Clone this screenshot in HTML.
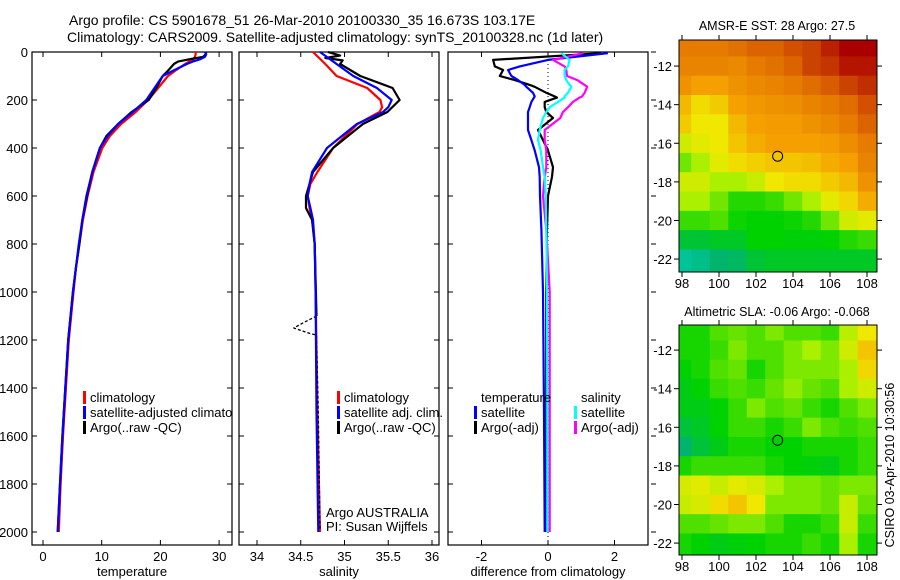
<!DOCTYPE html>
<html><head><meta charset="utf-8"><style>
html,body{margin:0;padding:0;background:#fff;}
svg{display:block;font-family:"Liberation Sans",sans-serif;}
</style></head><body>
<svg id="fig" width="900" height="580" viewBox="0 0 900 580" xmlns="http://www.w3.org/2000/svg">
<defs><clipPath id="clip1"><rect x="32" y="52" width="200" height="493"/></clipPath></defs>
<text x="69" y="25" font-size="14">Argo profile: CS 5901678_51 26-Mar-2010 20100330_35 16.673S 103.17E</text>
<text x="67" y="42" font-size="14">Climatology: CARS2009. Satellite-adjusted climatology: synTS_20100328.nc (1d later)</text>
<text x="777" y="30" font-size="12.5" text-anchor="middle">AMSR-E SST: 28 Argo: 27.5</text>
<text x="777" y="316" font-size="12.5" text-anchor="middle">Altimetric SLA: -0.06 Argo: -0.068</text>
<text x="0" y="0" font-size="12.5" text-anchor="middle" transform="translate(894,465) rotate(-90)">CSIRO 03-Apr-2010 10:30:56</text>
<g id="layer"></g>
</svg>
<script>
// ---- profile data (depth in m) ----
const tDepth=[0,10,20,30,40,50,75,100,150,200,250,300,350,400,500,600,700,800,900,1000,1200,1400,1600,1800,2000];
const tClim=[26.0,26.0,25.9,25.6,24.9,24.2,22.7,21.3,19.6,17.9,15.8,13.3,11.4,10.1,8.6,7.6,6.8,6.2,5.6,5.2,4.4,3.9,3.4,3.0,2.7];
const tSat=[27.6,27.8,27.6,26.8,25.5,24.5,22.4,20.4,19.0,17.6,15.3,12.8,11.0,9.7,8.4,7.4,6.7,6.1,5.6,5.1,4.3,3.8,3.3,2.9,2.5];
const tArgo=[27.8,27.7,27.3,25.0,23.0,22.3,21.4,20.4,19.3,18.0,15.1,12.8,10.8,9.7,8.4,7.5,6.7,6.2,5.6,5.1,4.3,3.8,3.3,2.9,2.5];

const sDepth=[0,50,100,150,200,230,250,300,400,500,550,600,650,700,800,1000,1500,2000];
const sClim=[34.64,34.78,34.91,35.26,35.41,35.43,35.40,35.15,34.87,34.69,34.61,34.58,34.60,34.63,34.66,34.67,34.69,34.72];
const sSat=[34.72,34.91,35.10,35.37,35.54,35.50,35.44,35.14,34.80,34.63,34.60,34.58,34.61,34.64,34.66,34.67,34.68,34.70];
const aDepth=[0,15,25,35,50,100,150,200,250,300,400,500,600,650,700,800,1100];
const sArgo=[34.81,34.95,34.78,34.98,34.95,35.18,35.55,35.63,35.49,35.21,34.87,34.64,34.56,34.56,34.63,34.66,34.68];
const aDepth2=[1100,1130,1150,1170,1180,1500,1990];
const sArgo2=[34.68,34.52,34.42,34.58,34.68,34.70,34.72];

const dDepth=[5,33,60,75,100,117,137,145,170,185,190,208,230,250,275,325,367,410,480,520,600,740,1000,1500,2000];
const dTempSat=[1.8,0.0,-0.85,-1.2,-1.1,-0.9,-0.7,-0.65,-0.45,-0.4,-0.42,-0.5,-0.55,-0.6,-0.6,-0.6,-0.5,-0.4,-0.27,-0.25,-0.24,-0.2,-0.15,-0.12,-0.1];
const dTempArgo=[1.6,-1.65,-1.6,-1.35,-1.45,-1.0,-0.55,-0.4,-0.05,0.2,0.27,-0.1,-0.1,-0.05,0.15,-0.3,-0.15,0.0,0.15,0.12,0.0,-0.03,-0.05,-0.05,-0.05];
const dSalSat=[0.4,0.65,0.6,0.5,0.5,0.55,0.65,0.7,0.6,0.5,0.5,0.3,0.05,-0.05,-0.15,-0.25,-0.3,-0.22,-0.15,-0.1,-0.07,-0.05,-0.03,-0.02,-0.02];
const dSalArgo=[1.05,0.15,0.5,0.55,0.57,0.88,1.1,1.18,1.1,1.03,0.95,0.75,0.6,0.45,0.37,-0.1,-0.1,-0.05,-0.05,-0.1,-0.15,-0.05,0.05,0.05,0.05];

// ---- map data: rows lat -11..-22, cols lon 98..108 (normalized colour index) ----
const mapLats=[-11,-12,-13,-14,-15,-16,-17,-18,-19,-20,-21,-22];
const mapLons=[98,99,100,101,102,103,104,105,106,107,108];
const sstGrid=[
[.80,.80,.80,.82,.85,.85,.88,.90,.95,1,1],
[.78,.78,.78,.77,.80,.82,.85,.90,.92,.97,.97],
[.75,.72,.72,.75,.77,.78,.80,.83,.86,.90,.93],
[.68,.62,.65,.72,.74,.75,.76,.78,.80,.83,.88],
[.65,.60,.60,.68,.72,.73,.73,.75,.77,.80,.85],
[.55,.58,.60,.66,.70,.72,.72,.72,.73,.76,.80],
[.45,.50,.58,.62,.64,.66,.66,.67,.70,.72,.78],
[.55,.55,.50,.50,.54,.60,.62,.62,.65,.68,.75],
[.50,.50,.45,.38,.38,.40,.45,.50,.58,.63,.70],
[.40,.40,.42,.36,.35,.35,.36,.38,.45,.55,.58],
[.28,.28,.30,.30,.35,.35,.34,.34,.35,.38,.40],
[.12,.15,.20,.22,.28,.30,.30,.30,.30,.30,.30]];
const slaGrid=[
[.37,.37,.42,.44,.42,.46,.42,.42,.40,.52,.60],
[.37,.37,.40,.46,.42,.42,.46,.50,.46,.55,.66],
[.35,.37,.42,.44,.37,.42,.46,.46,.46,.50,.63],
[.32,.35,.40,.42,.40,.44,.48,.44,.42,.50,.55],
[.32,.32,.35,.40,.46,.42,.44,.40,.37,.42,.46],
[.27,.30,.35,.40,.40,.37,.40,.46,.42,.40,.42],
[.20,.27,.32,.37,.37,.35,.35,.37,.37,.37,.40],
[.37,.40,.40,.40,.40,.37,.35,.34,.32,.37,.40],
[.56,.58,.54,.58,.56,.50,.46,.46,.44,.46,.46],
[.54,.56,.62,.66,.60,.46,.46,.46,.44,.54,.44],
[.42,.42,.44,.46,.46,.42,.37,.37,.40,.54,.40],
[.37,.35,.32,.34,.35,.37,.37,.40,.37,.50,.37]];
const argoLon=103.17, argoLat=-16.673;

const depthTicks=[0,200,400,600,800,1000,1200,1400,1600,1800,2000];
const tTicks=[0,10,20,30], sTicks=[34,34.5,35,35.5,36], dTicks=[-2,0,2];
const latTicks=[-12,-14,-16,-18,-20,-22], lonTicks=[98,100,102,104,106,108];

const NS='http://www.w3.org/2000/svg';
const layer=document.getElementById('layer');
function mk(tag,attrs,parent){const e=document.createElementNS(NS,tag);for(const k in attrs)e.setAttribute(k,attrs[k]);(parent||layer).appendChild(e);return e;}
function txt(s,x,y,anchor,size,name,parent){const t=mk('text',{x:x,y:y,'text-anchor':anchor,'font-size':size},parent);t.textContent=s;


return t;}

const yTop=52,yBot=545;
const yD=d=>yTop+d*0.24;
const panels=[
 {name:'temperature',x0:32,x1:232,fx:v=>43+v*5.87,ticks:tTicks,label:'temperature'},
 {name:'salinity',x0:239,x1:439,fx:v=>257+(v-34)*87.5,ticks:sTicks,label:'salinity'},
 {name:'difference',x0:448,x1:648,fx:v=>548+v*33.25,ticks:dTicks,label:'difference from climatology'}];

panels.forEach((p,i)=>{
 const g=mk('g',{});
 
 
 const r=mk('rect',{x:p.x0,y:yTop,width:p.x1-p.x0,height:yBot-yTop,fill:'none',stroke:'#000','stroke-width':1.2},g);
 
 
 depthTicks.forEach(d=>{
  const y=yD(d);
  mk('line',{x1:p.x0,x2:p.x0+5,y1:y,y2:y,stroke:'#000'},g);
  if(i<2) mk('line',{x1:p.x1,x2:p.x1-5,y1:y,y2:y,stroke:'#000'},g);
  else mk('line',{x1:p.x1+3,x2:p.x1+8,y1:y,y2:y,stroke:'#000'},g);
  if(i===0) txt(String(d),28,y+5,'end',13,'depth-tick-label',g);
 });
 p.ticks.forEach(v=>{
  const x=p.fx(v);
  mk('line',{x1:x,x2:x,y1:yBot,y2:yBot-5,stroke:'#000'},g);
  mk('line',{x1:x,x2:x,y1:yTop,y2:yTop+5,stroke:'#000'},g);
  txt(String(v),x,561,'middle',13,p.name+'-x-tick-label',g);
 });
 txt(p.label,(p.x0+p.x1)/2,576,'middle',13,p.name+'-x-axis-title',g);
 p.g=g;
});

function line(xs,ds,fx,color,name,w,dash){
 const pts=xs.map((v,k)=>fx(v).toFixed(1)+','+yD(ds[k]).toFixed(1)).join(' ');
 const l=mk('polyline',{points:pts,fill:'none',stroke:color,'stroke-width':w||2.2,'stroke-linejoin':'round'});
 if(dash) l.setAttribute('stroke-dasharray',dash);
 
 
}
const P=panels;
line(tClim,tDepth,P[0].fx,'#f00','temp-climatology-line');
line(tArgo,tDepth,P[0].fx,'#000','temp-argo-line');
line(tSat,tDepth,P[0].fx,'#00f','temp-satellite-line');
line(sClim,sDepth,P[1].fx,'#f00','sal-climatology-line');
line(sArgo,aDepth,P[1].fx,'#000','sal-argo-line');
line(sArgo2,aDepth2,P[1].fx,'#000','sal-argo-deep-line',1.3,'3,2');
line(sSat,sDepth,P[1].fx,'#00f','sal-satellite-line');
const zl=mk('line',{x1:548,x2:548,y1:yTop,y2:yBot-8,stroke:'#000','stroke-dasharray':'1,3'});


line(dTempArgo,dDepth,P[2].fx,'#000','diff-temp-argo-line');
line(dTempSat,dDepth,P[2].fx,'#00f','diff-temp-satellite-line');
line(dSalArgo,dDepth,P[2].fx,'#f0f','diff-sal-argo-line');
line(dSalSat,dDepth,P[2].fx,'#0ff','diff-sal-satellite-line');

function legend(x,y,items,pname,clip){
 const g=mk('g',clip?{'clip-path':'url(#clip1)'}:{});
 
 
 items.forEach((it,k)=>{
  const yy=y+k*15;
  if(it.c){const b=mk('rect',{x:x,y:yy-11,width:3,height:13,fill:it.c},g);
   
   }
  txt(it.t,x+7,yy,'start',13,pname+'-legend-entry',g);
 });
}
legend(83,402,[{c:'#f00',t:'climatology'},{c:'#00f',t:'satellite-adjusted climatology'},{c:'#000',t:'Argo(..raw -QC)'}],'temperature',true);
legend(337,402,[{c:'#f00',t:'climatology'},{c:'#00f',t:'satellite adj. clim.'},{c:'#000',t:'Argo(..raw -QC)'}],'salinity');
legend(474,402,[{c:null,t:'temperature'},{c:'#00f',t:'satellite'},{c:'#000',t:'Argo(-adj)'}],'diff-temperature');
legend(574,402,[{c:null,t:'salinity'},{c:'#0ff',t:'satellite'},{c:'#f0f',t:'Argo(-adj)'}],'diff-salinity');
txt('Argo AUSTRALIA',326,517,'start',13,'argo-australia-label');
txt('PI: Susan Wijffels',326,531,'start',13,'pi-label');

// ---- maps ----
const stops=[[0,[0,220,215]],[.2,[0,180,110]],[.35,[0,210,0]],[.5,[170,240,0]],[.6,[240,232,0]],[.72,[245,160,0]],[.85,[220,100,0]],[1,[170,0,0]]];
function cmap(v){for(let i=1;i<stops.length;i++){if(v<=stops[i][0]){const a=stops[i-1],b=stops[i];const t=(v-a[0])/(b[0]-a[0]);return 'rgb('+a[1].map((c,k)=>Math.round(c+(b[1][k]-c)*t)).join(',')+')';}}return 'rgb(170,0,0)';}
function drawMap(grid,y0,y1,latTop,name){
 const x0=679,x1=877;
 const fx=lon=>682+(lon-98)*18.5, fy=lat=>y0+(latTop-lat)*19.3;
 const g=mk('g',{});
 
 
 mapLats.forEach((lat,r)=>mapLons.forEach((lon,c)=>{
  let xa=Math.max(x0,fx(lon-0.5)),xb=Math.min(x1,fx(lon+0.5));
  let ya=Math.max(y0,fy(lat+0.5)),yb=Math.min(y1,fy(lat-0.5));
  if(r===0) ya=y0; if(r===mapLats.length-1) yb=y1;
  if(c===0) xa=x0; if(c===mapLons.length-1) xb=x1;
  const cell=mk('rect',{x:xa,y:ya,width:xb-xa+0.5,height:yb-ya+0.5,fill:cmap(grid[r][c])},g);
  
  
 }));
 const fr=mk('rect',{x:x0,y:y0,width:x1-x0,height:y1-y0,fill:'none',stroke:'#000','stroke-width':1},g);
 
 
 latTicks.forEach(l=>{const y=fy(l);mk('line',{x1:x0-5,x2:x0,y1:y,y2:y,stroke:'#000'},g);mk('line',{x1:x1,x2:x1+5,y1:y,y2:y,stroke:'#000'},g);txt(String(l),672,y+5,'end',13,name+'-lat-tick-label',g);});
 lonTicks.forEach(l=>{const x=fx(l);mk('line',{x1:x,x2:x,y1:y1,y2:y1+5,stroke:'#000'},g);mk('line',{x1:x,x2:x,y1:y0-5,y2:y0,stroke:'#000'},g);txt(String(l),x,y1+16,'middle',13,name+'-lon-tick-label',g);});
 const c=mk('circle',{cx:fx(argoLon),cy:fy(argoLat),r:5,fill:'none',stroke:'#000','stroke-width':1},g);
 
 
}
drawMap(sstGrid,40,272,-10.65,'sst');
drawMap(slaGrid,325,555,-10.7,'sla');
</script>
</body></html>
